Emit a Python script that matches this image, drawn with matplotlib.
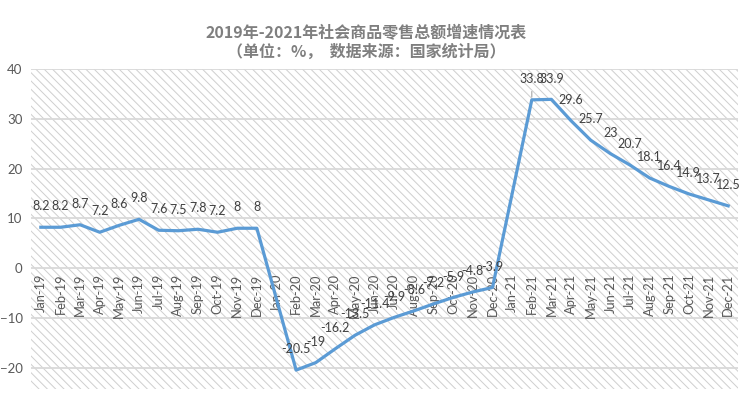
import numpy as np
import matplotlib.pyplot as plt
from matplotlib.patches import Rectangle

plt.rcParams['font.family'] = ['Lato', 'Noto Sans CJK SC', 'DejaVu Sans']
plt.rcParams['hatch.linewidth'] = 0.7

months = ['Jan', 'Feb', 'Mar', 'Apr', 'May', 'Jun', 'Jul', 'Aug', 'Sep', 'Oct', 'Nov', 'Dec']
years = ['19', '20', '21']
labels = [m + '-' + y for y in years for m in months]

# 社会消费品零售总额累计增速 (%), 1月无单独数据
growth_2019 = [8.2, 8.2, 8.7, 7.2, 8.6, 9.8, 7.6, 7.5, 7.8, 7.2, 8, 8]
growth_2020 = [None, -20.5, -19, -16.2, -13.5, -11.4, -9.9, -8.6, -7.2, -5.9, -4.8, -3.9]
growth_2021 = [None, 33.8, 33.9, 29.6, 25.7, 23, 20.7, 18.1, 16.4, 14.9, 13.7, 12.5]

values = growth_2019 + growth_2020 + growth_2021
xs = [i for i, v in enumerate(values) if v is not None]
ys = [v for v in values if v is not None]

fig = plt.figure(figsize=(7.46, 3.99), dpi=100)
ax = fig.add_axes([31 / 746, 1 - 389 / 399, 707 / 746, 320 / 399])

ax.add_patch(Rectangle((0, 0), 1, 1, transform=ax.transAxes, facecolor='white',
                       edgecolor='#cfcfcf', hatch='\\\\\\\\', lw=0, zorder=0))

ax.set_xlim(-0.5, len(labels) - 0.5)
ax.set_ylim(-24.3, 40)
ax.set_yticks([-20, -10, 0, 10, 20, 30, 40])
for t in ax.get_yticks():
    ax.axhline(t, color='#d9d9d9', lw=1.3, zorder=1)

for s in ax.spines.values():
    s.set_visible(False)
ax.spines['bottom'].set_position(('data', 0))
ax.set_xticks(range(len(labels)))
ax.set_xticklabels(labels, rotation=90, fontsize=9.3, color='#595959')
ax.tick_params(axis='x', length=0, pad=4)
ax.tick_params(axis='y', length=0, pad=6, labelsize=9.5, labelcolor='#595959')

ax.plot(xs, ys, color='#5b9bd5', lw=2.3, zorder=3, solid_joinstyle='round')

for x, y in zip(xs, ys):
    ax.annotate(f'{y:g}', (x, y), xytext=(0, 15), textcoords='offset points',
                ha='center', va='center', fontsize=9, color='#404040', zorder=4)

# leader line of the Feb-21 label
i = labels.index('Feb-21')
ax.annotate('', (i, values[i]), xytext=(0, 8), textcoords='offset points',
            arrowprops=dict(arrowstyle='-', color='#a6a6a6', lw=0.8))

fig.text(366 / 746, 1 - 33 / 399, '2019年-2021年社会商品零售总额增速情况表',
         ha='center', va='center', fontsize=11.5, fontweight='bold', color='#7f7f7f',
         family=['Noto Sans CJK SC', 'DejaVu Sans'])
fig.text(366 / 746, 1 - 52 / 399, '（单位：%，  数据来源：国家统计局）',
         ha='center', va='center', fontsize=11.5, fontweight='bold', color='#7f7f7f',
         family=['Noto Sans CJK SC', 'DejaVu Sans'])

fig.savefig('out.png', dpi=100)
